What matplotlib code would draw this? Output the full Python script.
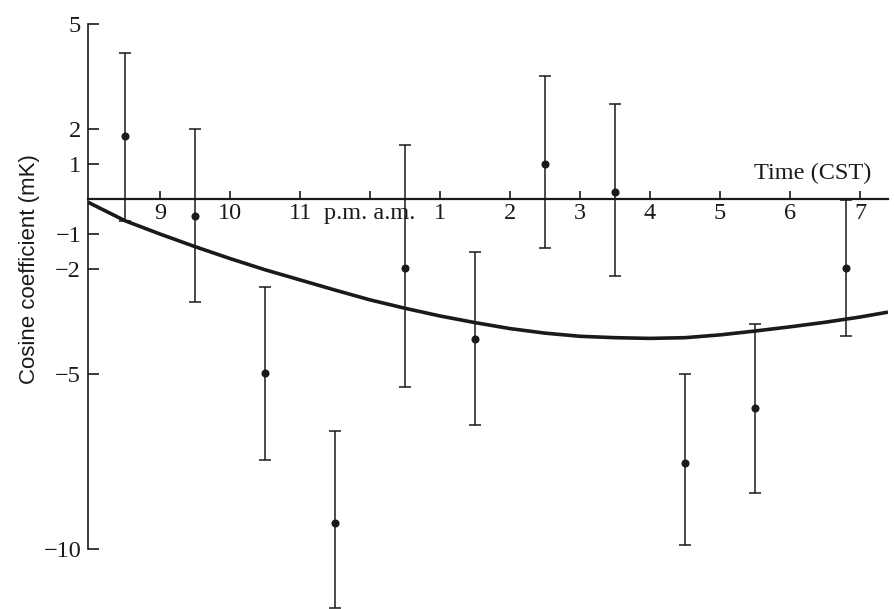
"""Cosine coefficient vs time of day (CST), with error bars and fitted curve."""

import matplotlib

matplotlib.use("Agg")
import matplotlib.pyplot as plt

# measured points: hour (20 = 8 p.m., 24 = midnight, 31 = 7 a.m.)
hours = [20.5, 21.5, 22.5, 23.5, 24.5, 25.5, 26.5, 27.5, 28.5, 29.5, 30.8]
coeff = [1.8, -0.49, -4.97, -9.26, -1.97, -4.0, 1.0, 0.2, -7.54, -5.97, -1.97]
err_up = [2.37, 2.49, 2.46, 2.63, 3.51, 2.49, 2.51, 2.51, 2.54, 2.4, 1.94]
err_dn = [2.43, 2.45, 2.49, 2.43, 3.40, 2.46, 2.4, 2.4, 2.35, 2.43, 1.94]

# model curve
curve_h = [19.97, 20.5, 21.0, 21.5, 22.0, 22.5, 23.0, 23.5, 24.0, 24.5, 25.0, 25.5,
           26.0, 26.5, 27.0, 27.5, 28.0, 28.5, 29.0, 29.5, 30.0, 30.5, 31.0, 31.4]
curve_v = [-0.09, -0.62, -1.0, -1.36, -1.7, -2.02, -2.31, -2.6, -2.88, -3.12, -3.34, -3.53,
           -3.7, -3.83, -3.92, -3.96, -3.98, -3.96, -3.88, -3.77, -3.65, -3.52, -3.37, -3.23]

xticks = [21, 22, 23, 24, 25, 26, 27, 28, 29, 30, 31]
xtick_labels = ["9", "10", "11", "p.m. a.m.", "1", "2", "3", "4", "5", "6", "7"]
yticks = [5, 2, 1, -1, -2, -5, -10]

serif = ["Liberation Serif", "DejaVu Serif"]
ink = "#1a1a1a"

fig = plt.figure(figsize=(8.95, 6.09), dpi=100)
ax = fig.add_axes([88 / 895, 0, 800 / 895, 1])
ax.set_xlim(19.97, 31.4)
ax.set_ylim(-11.71, 5.686)

ax.plot(curve_h, curve_v, color=ink, linewidth=2.6, solid_capstyle="butt",
        solid_joinstyle="round")
ax.errorbar(hours, coeff, yerr=[err_dn, err_up], fmt="o", color=ink,
            markersize=4.8, elinewidth=1.1, capsize=4, capthick=1.1)

for side in ("top", "right"):
    ax.spines[side].set_visible(False)
ax.spines["left"].set_bounds(-10, 5)
ax.spines["left"].set_linewidth(1.2)
ax.spines["left"].set_color(ink)
ax.spines["bottom"].set_position(("data", 0))
ax.spines["bottom"].set_linewidth(1.6)
ax.spines["bottom"].set_color(ink)

ax.set_xticks(xticks)
ax.set_xticklabels(xtick_labels, fontfamily=serif, fontsize=17.5)
ax.set_yticks(yticks)
ax.set_yticklabels([f"{v:d}".replace("-", "\u2212") for v in yticks],
                   fontfamily=serif, fontsize=17.5)
ax.tick_params(axis="x", direction="in", length=6, width=1.2, pad=3, colors=ink)
ax.tick_params(axis="y", direction="in", length=8, width=1.2, pad=5, colors=ink)

ax.text(30.33, 0.74, "Time (CST)", fontfamily=serif, fontsize=17.5, color=ink,
        ha="center", va="center")
fig.text(30 / 895, 1 - 269 / 609, "Cosine coefficient (mK)", rotation=90,
         fontfamily=["Liberation Sans", "DejaVu Sans"], fontsize=16, color=ink,
         ha="center", va="center")

fig.savefig("out.png", dpi=100)
